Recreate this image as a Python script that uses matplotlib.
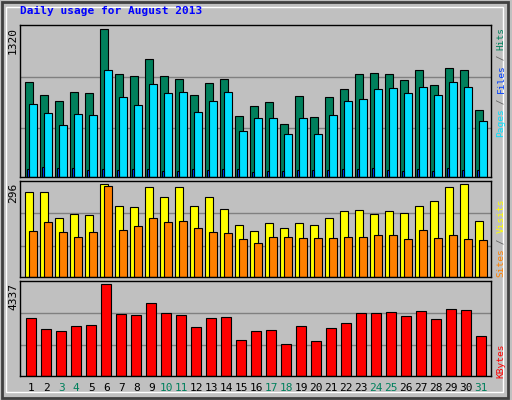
import numpy as np
import matplotlib.pyplot as plt
from matplotlib.patches import Rectangle

# ---------- Data ----------
days = np.arange(1, 32)
hits = [845, 729, 675, 755, 747, 1320, 917, 899, 1051, 899, 872, 729, 836, 872, 540,
        630, 666, 469, 720, 532, 711, 782, 917, 926, 917, 863, 953, 818, 970, 953, 594]
files = [648, 567, 460, 558, 549, 952, 714, 642, 830, 749, 758, 576, 675, 758, 406,
         529, 529, 380, 529, 380, 549, 675, 693, 783, 791, 749, 800, 729, 848, 800, 496]
pages = [69, 87, 78, 78, 60, 69, 60, 69, 69, 51, 51, 69, 60, 69, 69,
         42, 51, 51, 60, 60, 60, 69, 69, 78, 60, 51, 69, 51, 78, 60, 60]
visits = [271, 271, 188, 201, 198, 296, 226, 222, 286, 257, 286, 226, 254, 216, 165,
          146, 171, 155, 171, 165, 188, 210, 213, 201, 210, 203, 226, 242, 289, 296, 177]
sites = [146, 174, 142, 126, 142, 291, 151, 164, 187, 174, 177, 155, 142, 139, 120,
         107, 126, 126, 123, 123, 123, 126, 126, 133, 133, 120, 149, 123, 133, 120, 117]
kbytes = [2738, 2216, 2121, 2358, 2406, 4337, 2912, 2865, 3435, 2959, 2865, 2295, 2738, 2785, 1693,
          2121, 2169, 1503, 2358, 1646, 2247, 2485, 2959, 2959, 3007, 2817, 3055, 2675, 3149, 3102, 1867]
weekend = {3, 4, 10, 11, 17, 18, 24, 25, 31}

W, H = 512, 400
bg = '#C0C0C0'
fig = plt.figure(figsize=(W / 100, H / 100), dpi=100, facecolor=bg)
mono = 'DejaVu Sans Mono'

def px_axes(x0, y0, x1, y1):
    return fig.add_axes([x0 / W, 1 - y1 / H, (x1 - x0) / W, (y1 - y0) / H])

def style(ax, top):
    ax.set_facecolor(bg)
    ax.set_xlim(0.397, 31.78)
    ax.set_ylim(0, top)
    ax.set_xticks([]); ax.set_yticks([])
    for s in ax.spines.values():
        s.set_color('black'); s.set_linewidth(1)
    for f in (0.32, 0.66):
        ax.axhline(top * f, color='#808080', lw=1, zorder=0)

ek = dict(edgecolor='black', linewidth=0.8, align='edge')

ax1 = px_axes(20, 25, 490.7, 176.7)
style(ax1, 1358)
ax1.bar(days - 0.25, hits, width=0.49, color='#00805C', **ek)
ax1.bar(days + 0.02, files, width=0.49, color='#00E0FF', **ek)
ax1.bar(days - 0.12, pages, width=0.13, color='#0040FF', **ek)

ax2 = px_axes(20, 180.7, 490.7, 276.7)
style(ax2, 307.8)
ax2.bar(days - 0.25, visits, width=0.49, color='#FFFF00', **ek)
ax2.bar(days + 0.02, sites, width=0.49, color='#FF8000', **ek)

ax3 = px_axes(20, 281, 490.7, 375.7)
style(ax3, 4494)
ax3.bar(days - 0.18, kbytes, width=0.67, color='#FF0000', **ek)

# day labels
for d in days:
    ax3.text(d + 0.15, -0.13, str(d), transform=ax3.get_xaxis_transform(), ha='center', va='center',
             fontsize=8, family=mono, color='#00805C' if d in weekend else 'black')

# left max labels
for y, t in [(27, '1320'), (183, '296'), (283, '4337')]:
    fig.text(13 / W, 1 - y / H, t, rotation=90, ha='center', va='top', fontsize=8, family=mono)

# right rotated labels, built piecewise
def right_label(parts, ybottom):
    y = ybottom
    for txt, col in parts:
        fig.text(501 / W, 1 - y / H, txt, rotation=90, ha='center', va='bottom',
                 fontsize=6.8, family=mono, color=col)
        y -= 5.45 * len(txt)

right_label([('Pages', '#00E0FF'), (' / ', '#606060'), ('Files', '#0040FF'),
             (' / ', '#606060'), ('Hits', '#00805C')], 137)
right_label([('Sites', '#FF8000'), (' / ', '#606060'), ('Visits', '#FFFF00')], 277)
right_label([('KBytes', '#FF0000')], 378)

fig.text(20 / W, 1 - 11 / H, 'Daily usage for August 2013', ha='left', va='center',
         fontsize=8, family=mono, weight='bold', color='#0000FF')

# frame
fig.patches.append(Rectangle((0.003, 0.005), 0.99, 0.99, transform=fig.transFigure,
                             fill=False, edgecolor='#404040', lw=2))
fig.patches.append(Rectangle((0.012, 0.02), 0.97, 0.962, transform=fig.transFigure,
                             fill=False, edgecolor='white', lw=1))

fig.savefig('out.png', dpi=100, facecolor=bg)
